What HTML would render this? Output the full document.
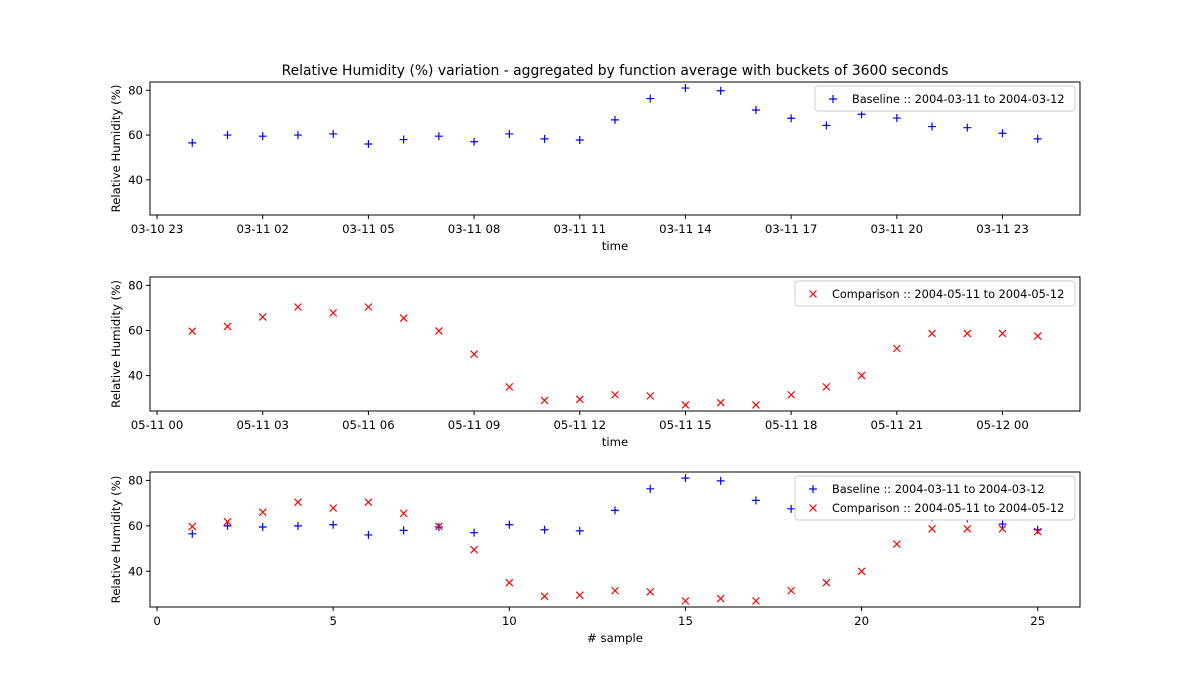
<!DOCTYPE html>
<html><head><meta charset="utf-8"><style>
body{margin:0;background:#fff}
svg{display:block;font-family:"DejaVu Sans","Liberation Sans",sans-serif}
</style></head><body>
<svg id="fig" width="1200" height="682" viewBox="0 0 1200 682">
<rect width="1200" height="682" fill="#fff"/>
<text x="615" y="75" text-anchor="middle" font-size="13.9">Relative Humidity (%) variation - aggregated by function average with buckets of 3600 seconds</text>
<g id="plots"></g>
</svg>
<script>
const baseline=[56.5,60,59.5,60,60.5,56,58,59.5,57,60.5,58.3,57.8,66.8,76.3,81,79.8,71.2,67.5,64.3,69.3,67.6,63.8,63.3,60.8,58.3];
const comparison=[59.7,61.8,66,70.4,67.8,70.4,65.5,59.8,49.5,35,29,29.5,31.5,31,27,28,27,31.5,35,40,52,58.7,58.7,58.7,57.5];
const yTicks=[40,60,80];
const topTickLabels=["03-10 23","03-11 02","03-11 05","03-11 08","03-11 11","03-11 14","03-11 17","03-11 20","03-11 23"];
const topTickHours=[-1,2,5,8,11,14,17,20,23];
const midTickLabels=["05-11 00","05-11 03","05-11 06","05-11 09","05-11 12","05-11 15","05-11 18","05-11 21","05-12 00"];
const midTickHours=[0,3,6,9,12,15,18,21,24];
const sampleTicks=[0,5,10,15,20,25];

const NS="http://www.w3.org/2000/svg";
const g=document.getElementById('plots');
function el(t,a,p){const e=document.createElementNS(NS,t);for(const k in a)e.setAttribute(k,a[k]);(p||g).appendChild(e);return e;}
const X0=150,X1=1080,YMIN=24.3,YMAX=83.7,FS=11.7;
function mkY(top,bot){return v=>bot-(v-YMIN)/(YMAX-YMIN)*(bot-top);}
function mkX(lo,hi){return v=>X0+(v-lo)/(hi-lo)*(X1-X0);}
function plus(x,y,c,grp){const p=el('path',{d:`M${x-4} ${y}H${x+4}M${x} ${y-4}V${y+4}`,stroke:c,'stroke-width':1.2,fill:'none'},grp);}
function cross(x,y,c,grp){const p=el('path',{d:`M${x-3.5} ${y-3.5}L${x+3.5} ${y+3.5}M${x-3.5} ${y+3.5}L${x+3.5} ${y-3.5}`,stroke:c,'stroke-width':1.2,fill:'none'},grp);}
function axes(top,bot,xs,tickVals,tickLabs,xlabel,name){
  const ax=el('g',{});
  const y=mkY(top,bot);
  el('rect',{x:X0,y:top,width:X1-X0,height:bot-top,fill:'none',stroke:'#000','stroke-width':1},ax);
  yTicks.forEach(v=>{const yy=y(v);el('line',{x1:X0-4,x2:X0,y1:yy,y2:yy,stroke:'#000'},ax);
    const t=el('text',{x:X0-7,y:yy+4,'text-anchor':'end','font-size':FS},ax);t.textContent=v;});
  tickVals.forEach((v,i)=>{const xx=xs(v);el('line',{x1:xx,x2:xx,y1:bot,y2:bot+4,stroke:'#000'},ax);
    const t=el('text',{x:xx,y:bot+18,'text-anchor':'middle','font-size':FS},ax);t.textContent=tickLabs[i];});
  const xl=el('text',{x:(X0+X1)/2,y:bot+35,'text-anchor':'middle','font-size':FS},ax);xl.textContent=xlabel;
  const yl=el('text',{x:0,y:0,'text-anchor':'middle','font-size':FS,transform:`translate(120,${(top+bot)/2}) rotate(-90)`},ax);yl.textContent='Relative Humidity (%)';
  return {ax,y};
}
function legend(ax,x,y,w,entries){
  const lg=el('g',{},ax);
  el('rect',{x,y,width:w,height:6+entries.length*19,fill:'#fff',stroke:'#ccc',rx:3},lg);
  entries.forEach((e,i)=>{const cy=y+13+i*19;
    if(e.m==='+')plus(x+18,cy,e.c,lg);else cross(x+18,cy,e.c,lg);
    const t=el('text',{x:x+37,y:cy+4,'font-size':11.3},lg);t.textContent=e.t;});
}
let xs=mkX(-1.2,25.2);let a=axes(82,215,xs,topTickHours,topTickLabels,'time','baseline-axes');
baseline.forEach((v,i)=>plus(xs(i),a.y(v),'#0000ff',a.ax));
legend(a.ax,815,86,260,[{m:'+',c:'#0000ff',t:'Baseline :: 2004-03-11 to 2004-03-12'}]);
xs=mkX(-0.2,26.2);a=axes(277,411,xs,midTickHours,midTickLabels,'time','comparison-axes');
comparison.forEach((v,i)=>cross(xs(i+1),a.y(v),'#ff0000',a.ax));
legend(a.ax,795,281,280,[{m:'x',c:'#ff0000',t:'Comparison :: 2004-05-11 to 2004-05-12'}]);
xs=mkX(-0.2,26.2);a=axes(472,607,xs,sampleTicks,sampleTicks,'# sample','overlay-axes');
baseline.forEach((v,i)=>plus(xs(i+1),a.y(v),'#0000ff',a.ax));
comparison.forEach((v,i)=>cross(xs(i+1),a.y(v),'#ff0000',a.ax));
legend(a.ax,795,476,280,[{m:'+',c:'#0000ff',t:'Baseline :: 2004-03-11 to 2004-03-12'},{m:'x',c:'#ff0000',t:'Comparison :: 2004-05-11 to 2004-05-12'}]);
</script>
</body></html>
